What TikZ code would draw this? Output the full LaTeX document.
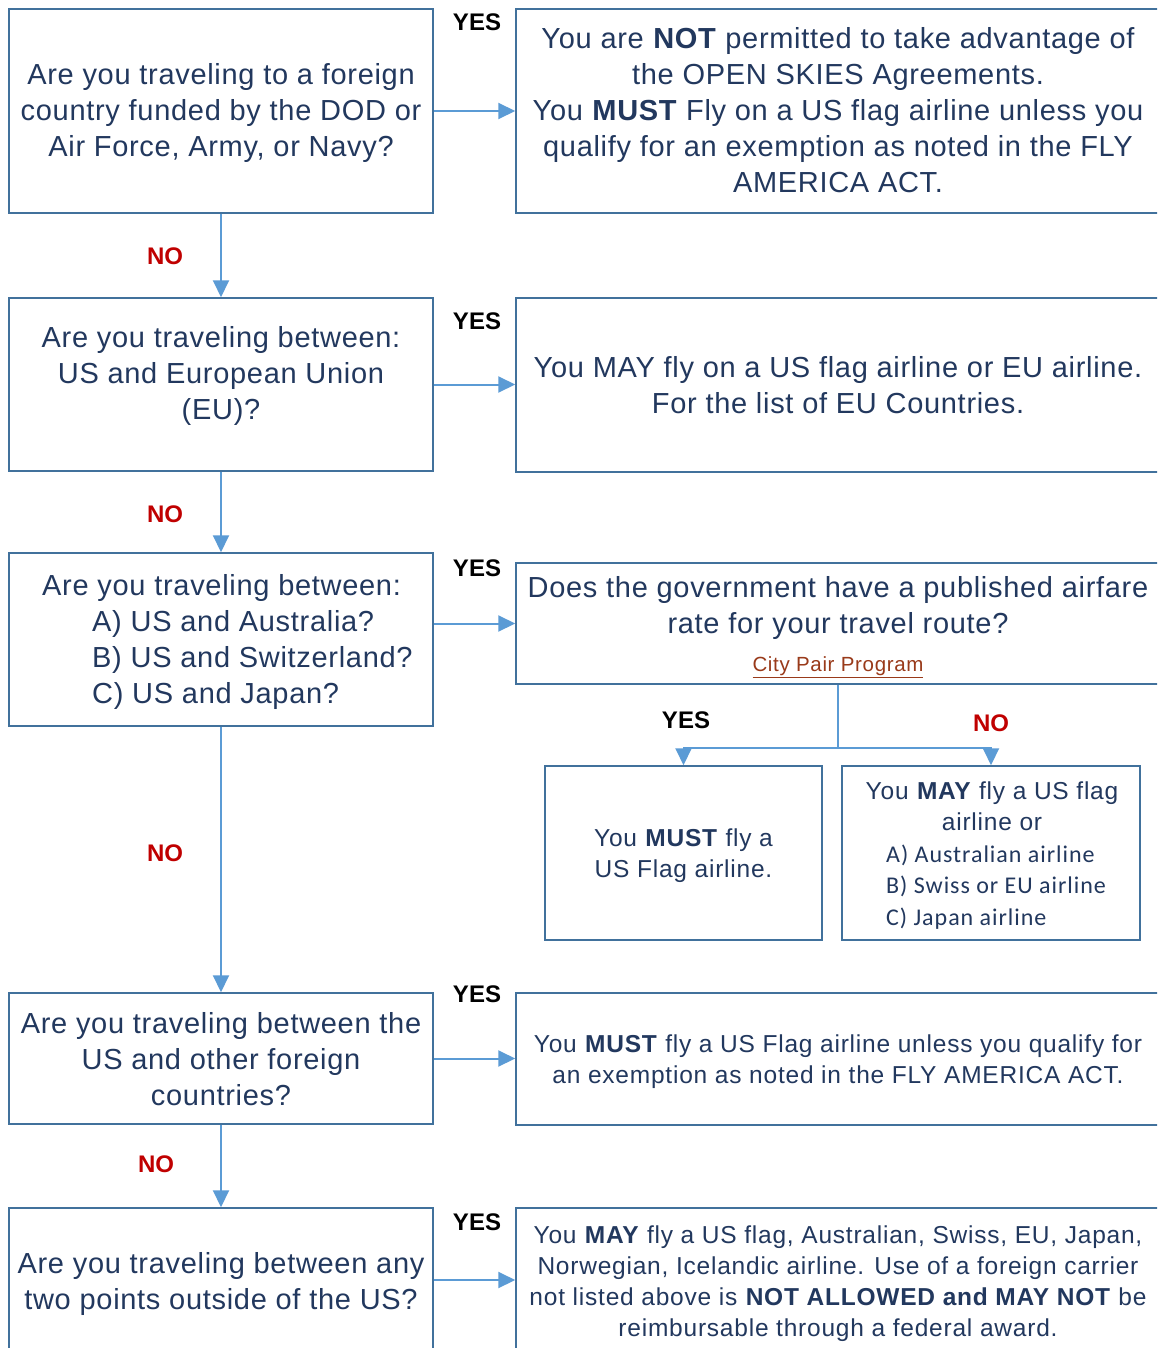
\documentclass[tikz,border=0pt]{standalone}
\usepackage{fontspec}
\setmainfont{Liberation Sans}[LetterSpace=2.4]
\newfontfamily\smallf{Liberation Sans}[LetterSpace=3.2]
\newfontfamily\plainf{Liberation Sans}
\newfontfamily\calib{Carlito}[LetterSpace=4]
\usetikzlibrary{arrows.meta}
\definecolor{navy}{HTML}{22385E}
\definecolor{boxc}{HTML}{41719C}
\definecolor{arrc}{HTML}{5B9BD5}
\definecolor{noRed}{HTML}{C00000}
\definecolor{linkc}{HTML}{993A1A}
\tikzset{
  box/.style={draw=boxc, line width=1.5pt, inner sep=0pt},
  txt/.style={text=navy, align=center, inner sep=0pt, font=\fontsize{29}{36}\selectfont},
  smalltxt/.style={text=navy, align=center, inner sep=0pt, font=\smallf\fontsize{24.5}{31}\selectfont},
  arr/.style={draw=arrc, line width=2pt, -{Triangle[length=17pt,width=16pt]}},
  yeslab/.style={inner sep=0pt, font=\plainf\bfseries\fontsize{24}{24}\selectfont},
  nolab/.style={inner sep=0pt, text=noRed, font=\plainf\bfseries\fontsize{24}{24}\selectfont}
}
\begin{document}
\begin{tikzpicture}[x=1pt,y=-1pt]
\path[use as bounding box] (0,0) rectangle (1157,1348);
\clip (0,0) rectangle (1157,1348);
\fill[white] (0,0) rectangle (1157,1348);
% left column boxes
\node[box, minimum width=424pt, minimum height=204pt] (b1) at (221,111) {};
\node[box, minimum width=424pt, minimum height=173pt] (b2) at (221,384.5) {};
\node[box, minimum width=424pt, minimum height=173pt] (b3) at (221,639.5) {};
\node[box, minimum width=424pt, minimum height=131pt] (b4) at (221,1058.5) {};
\node[box, minimum width=424pt, minimum height=144pt] (b5) at (221,1280) {};
% right column boxes
\node[box, minimum width=644pt, minimum height=204pt] (r1) at (838,111) {};
\node[box, minimum width=644pt, minimum height=174pt] (r2) at (838,385) {};
\node[box, minimum width=644pt, minimum height=121pt] (r3) at (838,623.5) {};
\node[box, minimum width=644pt, minimum height=132pt] (r4) at (838,1059) {};
\node[box, minimum width=644pt, minimum height=144pt] (r5) at (838,1280) {};
% sub boxes
\node[box, minimum width=277pt, minimum height=174pt] (s1) at (683.5,853) {};
\node[box, minimum width=298pt, minimum height=174pt] (s2) at (991,853) {};
% texts
\node[txt] (t1) at (221,113) {Are you traveling to a foreign\\country funded by the DOD or\\Air Force, Army, or Navy?};
\node[txt] (rt1) at (838,110.5) {You are \textbf{NOT} permitted to take advantage of\\the OPEN SKIES Agreements.\\You \textbf{MUST} Fly on a US flag airline unless you\\qualify for an exemption as noted in the FLY\\AMERICA ACT.};
\node[txt] (t2) at (221,376) {Are you traveling between:\\US and European Union\\(EU)?};
\node[txt] (rt2) at (838,385) {You MAY fly on a US flag airline or EU airline.\\For the list of EU Countries.};
\node[txt, align=left, anchor=west] (t3) at (42,642) {Are you traveling between:\\\hspace*{50pt}A) US and Australia?\\\hspace*{50pt}B) US and Switzerland?\\\hspace*{50pt}C) US and Japan?};
\node[txt] (rt3) at (838,608) {Does the government have a published airfare\\rate for your travel route?};
\node[inner sep=0pt, text=linkc, font=\smallf\fontsize{20.5}{24}\selectfont] (link) at (838,667) {\underline{City Pair Program}};
\node[smalltxt] (st1) at (683.5,856) {You \textbf{MUST} fly a\\US Flag airline.};
\node[smalltxt] (st2) at (992,806.5) {You \textbf{MAY} fly a US flag\\airline or};
\node[text=navy, align=left, anchor=west, inner sep=0pt, font=\calib\fontsize{24}{31.5}\selectfont] (st2b) at (886,887) {A) Australian airline\\B) Swiss or EU airline\\C) Japan airline};
\node[txt] (t4) at (221,1059.5) {Are you traveling between the\\US and other foreign\\countries?};
\node[smalltxt] (rt4) at (838,1061.5) {You \textbf{MUST} fly a US Flag airline unless you qualify for\\an exemption as noted in the FLY AMERICA ACT.};
\node[txt] (t5) at (221,1283.5) {Are you traveling between any\\two points outside of the US?};
\node[smalltxt] (rt5) at (838,1284) {You \textbf{MAY} fly a US flag, Australian, Swiss, EU, Japan,\\Norwegian, Icelandic airline. Use of a foreign carrier\\not listed above is \textbf{NOT ALLOWED and MAY NOT} be\\reimbursable through a federal award.};
% connectors
\draw[arr] (b1.south) -- (b2.north);
\draw[arr] (b2.south) -- (b3.north);
\draw[arr] (b3.south) -- (b4.north);
\draw[arr] (b4.south) -- (b5.north);
\draw[arr] (b1.east) -- (b1.east -| r1.west);
\draw[arr] (b2.east) -- (b2.east -| r2.west);
\draw[arr] (r3.west -| b3.east) -- (r3.west);
\draw[arr] (b4.east) -- (b4.east -| r4.west);
\draw[arr] (b5.east) -- (b5.east -| r5.west);
\draw[draw=arrc, line width=2pt] (r3.south) -- ++(0,63) coordinate (br);
\draw[arr] (br) -| (s1.north);
\draw[arr] (br) -| (s2.north);
% labels
\node[yeslab] (y1) at (477,22) {YES};
\node[yeslab] (y2) at (477,321) {YES};
\node[yeslab] (y3) at (477,568) {YES};
\node[yeslab] (y4) at (477,994) {YES};
\node[yeslab] (y5) at (477,1222) {YES};
\node[yeslab] (y6) at (686,720) {YES};
\node[nolab] (n1) at (165,256) {NO};
\node[nolab] (n2) at (165,514) {NO};
\node[nolab] (n3) at (165,853) {NO};
\node[nolab] (n4) at (156,1164) {NO};
\node[nolab] (n5) at (991,723) {NO};
\end{tikzpicture}
\end{document}
